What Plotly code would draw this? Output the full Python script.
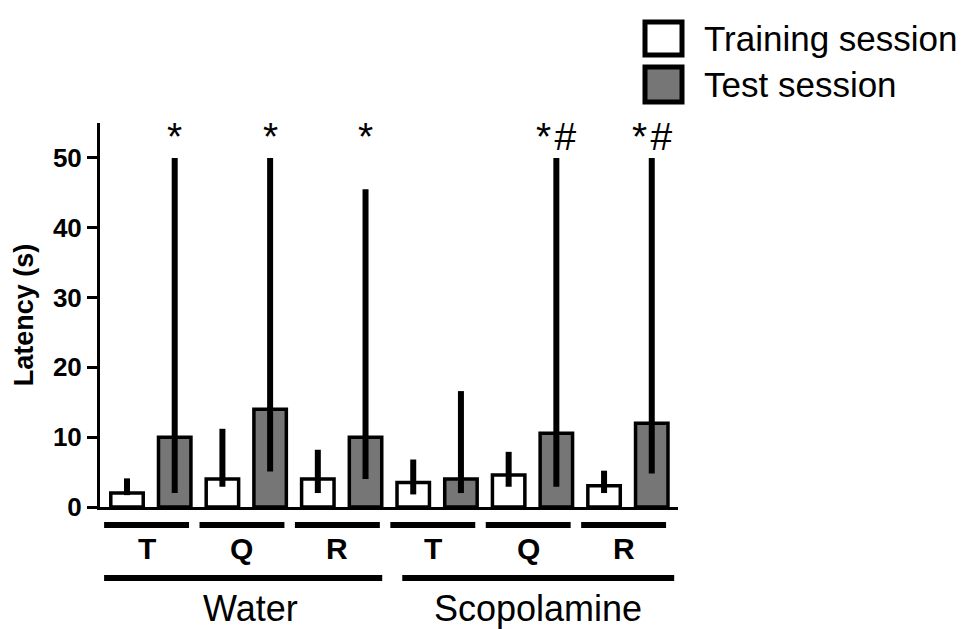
import plotly.graph_objects as go

# ---------------- data ----------------
conditions = ["T", "Q", "R", "T", "Q", "R"]
groups = ["Water", "Scopolamine"]
training = [2.0, 4.0, 4.0, 3.5, 4.6, 3.05]
training_low = [1.7, 2.9, 2.0, 1.8, 2.9, 2.0]
training_high = [4.1, 11.2, 8.2, 6.8, 7.9, 5.2]
test = [10.0, 14.0, 10.0, 4.0, 10.55, 12.0]
test_low = [2.0, 5.1, 4.0, 2.0, 2.9, 4.8]
test_high = [50.0, 50.0, 45.5, 16.6, 50.0, 50.0]
significance = ["*", "*", "*", "", "*\u200a#", "*\u200a#"]
y_ticks = [0, 10, 20, 30, 40, 50]

# ---------------- layout helpers ----------------
OFF = 8  # page body margin offset
PAGE_W, PAGE_H = 968, 629
W, H = PAGE_W - OFF, PAGE_H - OFF
PL, PR, PT, PB = 100, 678, 123, 507   # plot area in page pixels
ML, MT = PL - OFF, PT - OFF
MR, MB = PAGE_W - PR, PAGE_H - PB
PW, PH = PR - PL, PB - PT


def px_x(p):
    return (p - PL) / PW


def px_y(p):
    return (PB - p) / PH


FONT = "Liberation Sans, Arial, sans-serif"
x_train = [2 * i for i in range(len(conditions))]
x_test = [2 * i + 1 for i in range(len(conditions))]

fig = go.Figure()
fig.add_trace(go.Bar(
    x=x_train, y=training, width=0.68, name="Training session",
    marker=dict(color="white", line=dict(color="black", width=3.5)),
    error_y=dict(type="data", symmetric=False,
                 array=[h - v for h, v in zip(training_high, training)],
                 arrayminus=[v - l for v, l in zip(training, training_low)],
                 color="black", thickness=6, width=0),
    showlegend=False,
))
fig.add_trace(go.Bar(
    x=x_test, y=test, width=0.68, name="Test session",
    marker=dict(color="#767676", line=dict(color="black", width=3.5)),
    error_y=dict(type="data", symmetric=False,
                 array=[h - v for h, v in zip(test_high, test)],
                 arrayminus=[v - l for v, l in zip(test, test_low)],
                 color="black", thickness=6, width=0),
    showlegend=False,
))

annotations = []
shapes = []
# significance marks
for xi, s in zip(x_test, significance):
    if s:
        annotations.append(dict(x=xi, y=53.0, xref="x", yref="y", text=s,
                                showarrow=False, yanchor="middle",
                                font=dict(family=FONT, size=39, color="black")))
# condition lines and labels
for i, c in enumerate(conditions):
    x0, x1 = 2 * i - 0.48, 2 * i + 1.3
    shapes.append(dict(type="line", xref="x", yref="paper", x0=x0, x1=x1,
                       y0=px_y(525), y1=px_y(525),
                       line=dict(color="black", width=6)))
    annotations.append(dict(x=(x0 + x1) / 2, y=px_y(548), xref="x", yref="paper",
                            text=c, showarrow=False, yanchor="middle",
                            font=dict(family=FONT, size=30, color="black",
                                      weight="bold")))
# group lines and labels
n_per = len(conditions) // len(groups)
for g, name in enumerate(groups):
    x0 = 2 * n_per * g - 0.48 + (0.25 if g else 0)
    x1 = 2 * n_per * (g + 1) - 0.65 + (0.12 if g else 0)
    shapes.append(dict(type="line", xref="x", yref="paper", x0=x0, x1=x1,
                       y0=px_y(578), y1=px_y(578),
                       line=dict(color="black", width=6)))
    annotations.append(dict(x=(x0 + x1) / 2 + (0 if g else 0.15), y=px_y(608),
                            xref="x", yref="paper",
                            text=name, showarrow=False, yanchor="middle",
                            font=dict(family=FONT, size=36, color="black")))

# custom legend
legend_items = [("Training session", "white", 22, 55),
                ("Test session", "#767676", 67, 102)]
for label, col, ytop, ybot in legend_items:
    shapes.append(dict(type="rect", xref="paper", yref="paper",
                       x0=px_x(645), x1=px_x(682), y0=px_y(ybot), y1=px_y(ytop),
                       fillcolor=col, line=dict(color="black", width=5)))
    annotations.append(dict(x=px_x(702), y=px_y((ytop + ybot) / 2),
                            xref="paper", yref="paper", text=label,
                            showarrow=False, xanchor="left", yanchor="middle",
                            font=dict(family=FONT, size=35, color="black")))

fig.update_layout(
    width=W, height=H,
    margin=dict(l=ML, r=MR, t=MT, b=MB, pad=0),
    paper_bgcolor="white", plot_bgcolor="white",
    barmode="overlay",
    showlegend=False,
    font=dict(family=FONT, color="black"),
    xaxis=dict(range=[-0.566, 11.55], showticklabels=False, ticks="",
               showgrid=False, zeroline=False, showline=True,
               linecolor="black", linewidth=3),
    yaxis=dict(range=[0, 55], tickvals=y_ticks, ticks="outside", ticklen=10,
               tickwidth=3, tickcolor="black", showgrid=False, zeroline=False,
               showline=True, linecolor="black", linewidth=3,
               tickfont=dict(family=FONT, size=26, weight="bold"),
               title=dict(text="Latency (s)", standoff=12,
                          font=dict(family=FONT, size=27, weight="bold"))),
    shapes=shapes,
    annotations=annotations,
)

fig.write_html("out.html")
